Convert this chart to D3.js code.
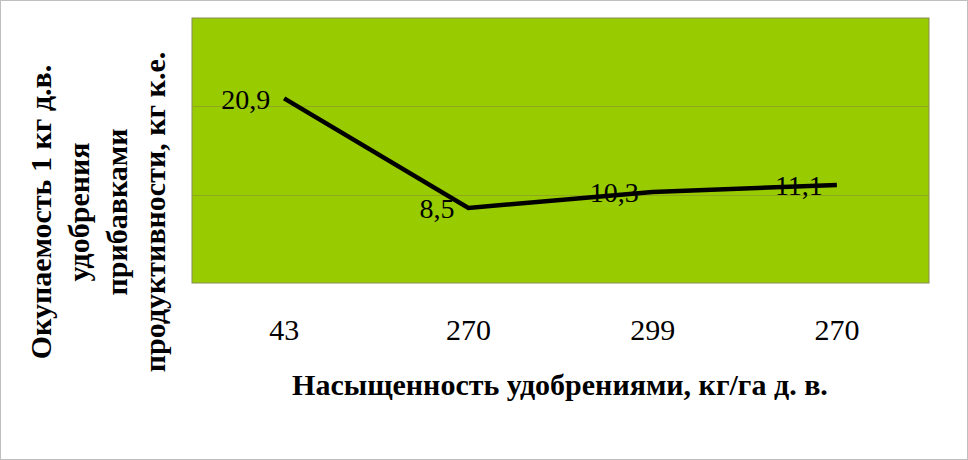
<!DOCTYPE html>
<html>
<head>
<meta charset="utf-8">
<style type="text/css">
body {
	margin: 0;
	background: #fff;
}
text {
	font-family: "Liberation Serif", "Times New Roman", serif;
	fill: #000;
}
.grid line {
	stroke: #8fa81e;
	stroke-width: 1;
}
.pathline {
	stroke: #000;
	stroke-width: 4.5;
	fill: none;
}
</style>
<script src="https://d3js.org/d3.v7.min.js"></script>
</head>
<body>
<script type="text/javascript">
var width  = 968;
var height = 460;

// data
var categories = ["43", "270", "299", "270 "];
var tickLabels = ["43", "270", "299", "270"];
var values = [20.9, 8.5, 10.3, 11.1];
var valueLabels = ["20,9", "8,5", "10,3", "11,1"];
var yTicks = [0, 10, 20, 30];
var xTitle = "Насыщенность удобрениями, кг/га д. в.";
var yTitle = ["Окупаемость 1 кг д.в.", "удобрения", "прибавками", "продуктивности, кг к.е."];

var plot = {left: 192, top: 18, right: 929, bottom: 283};

var svg = d3.select("body").append("svg").attr("width", width).attr("height", height);

// outer frame
svg.append("rect")
	.attr("x", 0.5).attr("y", 0.5)
	.attr("width", width - 1).attr("height", height - 1)
	.attr("fill", "#fff").attr("stroke", "#bfbfbf");

var x = d3.scaleBand().domain(categories).range([plot.left, plot.right]);
var y = d3.scaleLinear().domain([0, 30]).range([plot.bottom, plot.top]);

// plot area
svg.append("rect")
	.attr("x", plot.left).attr("y", plot.top)
	.attr("width", plot.right - plot.left).attr("height", plot.bottom - plot.top)
	.attr("fill", "#99cc00")
	.attr("stroke", "#8a8a55").attr("stroke-width", 1);

svg.append("g").attr("class", "grid")
	.selectAll("line").data(yTicks.slice(1, 3)).enter().append("line")
	.attr("x1", plot.left).attr("x2", plot.right)
	.attr("y1", function(d){ return Math.round(y(d)) + 0.5; })
	.attr("y2", function(d){ return Math.round(y(d)) + 0.5; });

// x axis labels (no line)
var xAxis = d3.axisBottom(x).tickSize(0).tickPadding(0)
	.tickFormat(function(d, i){ return tickLabels[i]; });
var gx = svg.append("g").attr("transform", "translate(0," + plot.bottom + ")").call(xAxis);
gx.select(".domain").remove();
gx.selectAll("text")
	.attr("y", 57).attr("dy", 0)
	.style("font-family", "Liberation Serif")
	.style("font-size", "30px");

// line
var line = d3.line()
	.x(function(d, i){ return x(categories[i]) + x.bandwidth() / 2; })
	.y(function(d){ return y(d); });

svg.append("path").datum(values)
	.attr("class", "pathline")
	.attr("stroke-linejoin", "miter")
	.attr("d", line);

// data labels, left of point
svg.append("g").selectAll("text").data(values).enter().append("text")
	.attr("x", function(d, i){ return x(categories[i]) + x.bandwidth() / 2 - 14; })
	.attr("y", function(d){ return y(d); })
	.attr("dy", "0.37em")
	.attr("text-anchor", "end")
	.style("font-size", "28px")
	.text(function(d, i){ return valueLabels[i]; });

// x title
svg.append("text")
	.attr("x", 560).attr("y", 395)
	.attr("text-anchor", "middle")
	.style("font-size", "30px")
	.style("font-weight", "bold")
	.text(xTitle);

// y title (rotated, several lines)
var yt = svg.append("text")
	.attr("transform", "translate(0,212) rotate(-90)")
	.attr("text-anchor", "middle")
	.style("font-size", "30px")
	.style("font-weight", "bold");
yt.selectAll("tspan").data(yTitle).enter().append("tspan")
	.attr("x", 0)
	.attr("y", function(d, i){ return 51 + i * 38; })
	.text(function(d){ return d; });
</script>
</body>
</html>
